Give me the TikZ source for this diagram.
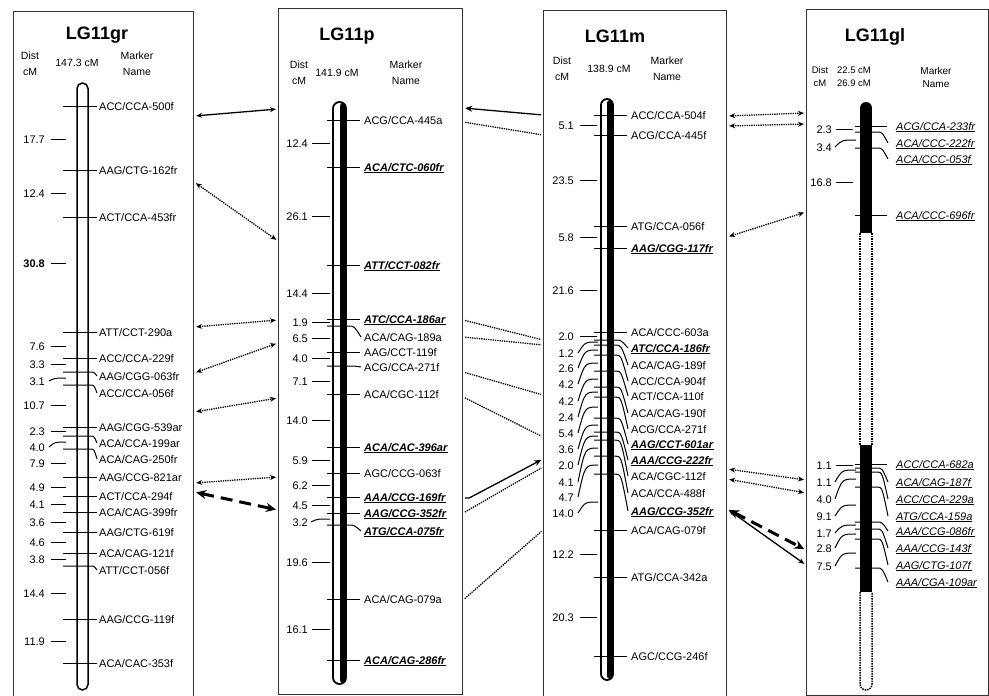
\documentclass[tikz,border=0pt]{standalone}
\usepackage{fontspec}
\setmainfont{Liberation Sans}
\usetikzlibrary{arrows.meta}

\newcommand{\bfu}[1]{\underline{\textbf{\textit{#1}}}}
\newcommand{\itu}[1]{\underline{\textit{#1}}}

\begin{document}
\begin{tikzpicture}[x=1pt, y=-1pt,
    box/.style={draw=black!80, line width=1.2pt, anchor=north west, inner sep=0pt, minimum height=686pt},
    ttl/.style={font=\fontsize{18}{20}\selectfont\bfseries, inner sep=0pt},
    hdr/.style={font=\fontsize{10.5}{16}\selectfont, align=center, inner sep=0pt},
    mk/.style={font=\fontsize{11}{12}\selectfont, anchor=west, inner sep=0pt, text height=8pt, text depth=0pt},
    dst/.style={font=\fontsize{11}{12}\selectfont, anchor=east, inner sep=0pt, text height=8pt, text depth=0pt},
    tk/.style={line width=1pt},
    lnk/.style={line width=1.3pt, shorten <=2pt, shorten >=2pt},
    dots/.style={lnk, densely dotted},
    both/.style={{Stealth[length=6pt,width=5pt]}-{Stealth[length=6pt,width=5pt]}},
    thickdash/.style={lnk, line width=3pt, dash pattern=on 12pt off 7pt,
      {Stealth[length=10pt,width=9pt]}-{Stealth[length=10pt,width=9pt]}},
    dotbar/.style={densely dotted, line width=1.5pt}
  ]
\path[use as bounding box, fill=white] (0,0) rectangle (989,696);

% ---------- LG11gr
\node[box, minimum width=180pt] (gr) at (13,11) {};
\node[ttl] (grt) at (97,35) {LG11gr};
\node[hdr] (grh1) at (30,64) {Dist\\cM};
\node[hdr] (grh2) at (77,63) {147.3 cM};
\node[hdr] (grh3) at (137,64) {Marker\\Name};
\draw[line width=1.5pt, fill=white, rounded corners=5.5pt] (77,83) rectangle (88,690);
\foreach \ty/\ly/\nm in {106/106/{ACC/CCA-500f}, 170/170/{AAG/CTG-162fr}, 217/217/{ACT/CCA-453fr},
    332/332/{ATT/CCT-290a}, 358/358/{ACC/CCA-229f}, 372/376/{AAG/CGG-063fr}, 385/393/{ACC/CCA-056f},
    427/427/{AAG/CGG-539ar}, 436/443/{ACA/CCA-199ar}, 449/459/{ACA/CAG-250fr}, 477/477/{AAG/CCG-821ar},
    496/496/{ACT/CCA-294f}, 512/512/{ACA/CAG-399fr}, 532/532/{AAG/CTG-619f}, 553/553/{ACA/CAG-121f},
    566/570/{ATT/CCT-056f}, 619/619/{AAG/CCG-119f}, 663/663/{ACA/CAC-353f}} {
  \ifnum\ty=\ly
    \draw[tk] (63,\ty) -- (97,\ty);
  \else
    \draw[tk] (63,\ty) -- (90,\ty) .. controls (94,\ty) .. (97,\ly);
  \fi
  \node[mk] (grm\ty) at (99,\ly) {\nm};
}
\foreach \dy/\my/\val in {139/139/17.7, 193/193/12.4, 263/263/{\textbf{30.8}}, 346/346/7.6, 364/364/3.3,
    381/378/3.1, 405/405/10.7, 431/431/2.3, 447/442/4.0, 463/463/7.9, 487/487/4.9, 504/504/4.1,
    522/522/3.6, 542/542/4.6, 559/559/3.8, 593/593/14.4, 641/641/11.9} {
  \ifnum\dy=\my
    \draw[tk] (51,\dy) -- (66,\dy);
  \else
    \draw[tk] (49,\dy) .. controls (55,\my) .. (66,\my);
  \fi
  \node[dst] (grd\dy) at (45,\dy) {\val};
}

% ---------- LG11p
\node[box, minimum width=184pt] (p) at (278,8) {};
\node[ttl] (pt) at (347,36) {LG11p};
\node[hdr] (ph1) at (299,73) {Dist\\cM};
\node[hdr] (ph2) at (337,73) {141.9 cM};
\node[hdr] (ph3) at (406,73) {Marker\\Name};
\draw[line width=1.8pt, fill=white, rounded corners=6.5pt] (333,102) rectangle (346,684);
\draw[line width=6.5pt, line cap=round] (343,106) -- (343,680);
\foreach \ty/\ly/\nm in {120/120/{ACG/CCA-445a}, 167/167/{\bfu{ACA/CTC-060fr}}, 265/265/{\bfu{ATT/CCT-082fr}},
    319/319/{\bfu{ATC/CCA-186ar}}, 326/337/{ACA/CAG-189a}, 352/352/{AAG/CCT-119f}, 366/367/{ACG/CCA-271f},
    394/394/{ACA/CGC-112f}, 447/447/{\bfu{ACA/CAC-396ar}}, 473/473/{AGC/CCG-063f}, 497/497/{\bfu{AAA/CCG-169fr}},
    513/513/{\bfu{AAG/CCG-352fr}}, 525/531/{\bfu{ATG/CCA-075fr}}, 599/599/{ACA/CAG-079a},
    660/660/{\bfu{ACA/CAG-286fr}}} {
  \ifnum\ty=\ly
    \draw[tk] (327,\ty) -- (360,\ty);
  \else
    \draw[tk] (327,\ty) -- (349,\ty) .. controls (354,\ty) .. (361,\ly);
  \fi
  \node[mk] (pm\ty) at (364,\ly) {\nm};
}
\foreach \dy/\my/\val in {143/143/12.4, 216/216/26.1, 293/293/14.4, 322/322/1.9, 338/338/6.5, 358/358/4.0,
    381/381/7.1, 420/420/14.0, 460/460/5.9, 485/485/6.2, 505/505/4.5, 522/519/3.2, 562/562/19.6,
    629/629/16.1} {
  \ifnum\dy=\my
    \draw[tk] (312,\dy) -- (330,\dy);
  \else
    \draw[tk] (311,\dy) .. controls (317,\my) .. (330,\my);
  \fi
  \node[dst] (pd\dy) at (308,\dy) {\val};
}

% ---------- LG11m
\node[box, minimum width=183pt] (m) at (543,10) {};
\node[ttl] (mt) at (615,36) {LG11m};
\node[hdr] (mh1) at (562,69) {Dist\\cM};
\node[hdr] (mh2) at (609,69) {138.9 cM};
\node[hdr] (mh3) at (667,69) {Marker\\Name};
\draw[line width=1.8pt, fill=white, rounded corners=6pt] (601,99) rectangle (613,680);
\draw[line width=6pt, line cap=round] (610,103) -- (610,676);
\foreach \ty/\ly/\nm in {115/115/{ACC/CCA-504f}, 135/135/{ACG/CCA-445f}, 226/226/{ATG/CCA-056f},
    248/248/{\bfu{AAG/CGG-117fr}}, 332/332/{ACA/CCC-603a}, 340/348/{\bfu{ATC/CCA-186fr}},
    345/365/{ACA/CAG-189f}, 355/381/{ACC/CCA-904f}, 371/396/{ACT/CCA-110f}, 387/413/{ACA/CAG-190f},
    397/429/{ACG/CCA-271f}, 418/444/{\bfu{AAG/CCT-601ar}}, 432/460/{\bfu{AAA/CCG-222fr}},
    440/476/{ACA/CGC-112f}, 456/493/{ACA/CCA-488f}, 474/511/{\bfu{AAG/CCG-352fr}},
    530/530/{ACA/CAG-079f}, 577/577/{ATG/CCA-342a}, 656/656/{AGC/CCG-246f}} {
  \ifnum\ty=\ly
    \draw[tk] (594,\ty) -- (627,\ty);
  \else
    \draw[tk] (594,\ty) -- (615,\ty) .. controls (621,\ty) .. (628,\ly);
  \fi
  \node[mk] (mm\ty) at (631,\ly) {\nm};
}
\foreach \dy/\my/\val in {125/125/5.1, 180/180/23.5, 237/237/5.8, 290/290/21.6, 336/336/2.0, 353/342/1.2,
    368/350/2.6, 384/363/4.2, 401/379/4.2, 417/392/2.4, 433/407/5.4, 449/425/3.6, 465/436/2.0,
    482/448/4.1, 497/465/4.7, 513/502/14.0, 554/554/12.2, 617/617/20.3} {
  \ifnum\dy=\my
    \draw[tk] (580,\dy) -- (597,\dy);
  \else
    \draw[tk] (578,\dy) .. controls (585,\my) .. (598,\my);
  \fi
  \node[dst] (md\dy) at (574,\dy) {\val};
}

% ---------- LG11gl
\node[box, minimum width=182pt] (gl) at (806,9) {};
\node[ttl] (glt) at (875,37) {LG11gl};
\node[hdr, font=\fontsize{9.5}{13}\selectfont] (glh1) at (820,77) {Dist\\cM};
\node[hdr, font=\fontsize{9.5}{13}\selectfont] (glh2) at (854,77) {22.5 cM\\26.9 cM};
\node[hdr, font=\fontsize{10}{13}\selectfont] (glh3) at (936,77) {Marker\\Name};
\draw[line width=12pt, line cap=round] (866,108) -- (866,140);
\fill (860,108) rectangle (872,233);
\draw[dotbar] (860,233) -- (860,445) (872,233) -- (872,445);
\fill (860,445) rectangle (872,592);
\draw[dotbar, rounded corners=6pt] (860,592) -- (860,690) -- (872,690) -- (872,592);
\foreach \ty/\ly/\nm in {126/126/{ACG/CCA-233fr}, 132/143/{ACA/CCC-222fr}, 148/159/{ACA/CCC-053f},
    215/215/{ACA/CCC-696fr}, 464/464/{ACC/CCA-682a}, 468/482/{ACA/CAG-187f}, 472/499/{ACC/CCA-229a},
    487/516/{ATG/CCA-159a}, 522/531/{AAA/CCG-086fr}, 529/548/{AAA/CCG-143f}, 539/565/{AAG/CTG-107f},
    568/582/{AAA/CGA-109ar}} {
  \ifnum\ty=\ly
    \draw[tk] (855,\ty) -- (887,\ty);
  \else
    \draw[tk] (855,\ty) -- (877,\ty) .. controls (882,\ty) .. (888,\ly);
  \fi
  \node[mk] (glm\ty) at (896,\ly) {\itu{\nm}};
}
\foreach \dy/\my/\val in {129/129/2.3, 147/140/3.4, 182/182/16.8, 465/465/1.1, 482/470/1.1, 499/479/4.0,
    516/505/9.1, 533/525/1.7, 548/534/2.8, 566/553/7.5} {
  \ifnum\dy=\my
    \draw[tk] (836,\dy) -- (853,\dy);
  \else
    \draw[tk] (835,\dy) .. controls (842,\my) .. (856,\my);
  \fi
  \node[dst] (gld\dy) at (832,\dy) {\val};
}

% ---------- links LG11gr - LG11p
\coordinate (grc1) at (gr.east |- 0,116);
\coordinate (pc1) at (p.west |- 0,109);
\draw[lnk, both] (grc1) -- (pc1);
\foreach \i/\ya/\yb in {2/182/241, 3/327/320, 4/373/343, 5/412/398, 6/483/477} {
  \coordinate (grc\i) at (gr.east |- 0,\ya);
  \coordinate (pc\i) at (p.west |- 0,\yb);
  \draw[dots, both] (grc\i) -- (pc\i);
}
\coordinate (grc7) at (gr.east |- 0,492);
\coordinate (pc7) at (p.west |- 0,510);
\draw[thickdash] (grc7) -- (pc7);

% ---------- links LG11p - LG11m
\coordinate (pe1) at (p.east |- 0,108);
\coordinate (mw1) at (m.west |- 0,115);
\draw[lnk, -{Stealth[length=7pt,width=6pt]}] (mw1) -- (pe1);
\foreach \i/\ya/\yb in {2/122/135, 3/320/340, 4/337/345, 5/372/395, 6/397/437, 8/513/467, 9/600/530} {
  \coordinate (pe\i) at (p.east |- 0,\ya);
  \coordinate (mw\i) at (m.west |- 0,\yb);
  \draw[dots] (pe\i) -- (mw\i);
}
\coordinate (pe7) at (p.east |- 0,498);
\coordinate (mw7) at (m.west |- 0,459);
\draw[lnk, -{Stealth[length=7pt,width=6pt]}] (pe7) -- ++(6,0) -- (mw7);

% ---------- links LG11m - LG11gl
\foreach \i/\ya/\yb in {1/116/113, 2/126/124, 3/237/212, 4/469/480, 5/479/493} {
  \coordinate (me\i) at (m.east |- 0,\ya);
  \coordinate (glw\i) at (gl.west |- 0,\yb);
  \draw[dots, both] (me\i) -- (glw\i);
}
\coordinate (me6) at (m.east |- 0,509);
\coordinate (glw6) at (gl.west |- 0,550);
\coordinate (glw7) at (gl.west |- 0,565);
\draw[thickdash] (me6) -- (glw6);
\draw[lnk, both] (me6) -- (glw7);
\end{tikzpicture}
\end{document}
